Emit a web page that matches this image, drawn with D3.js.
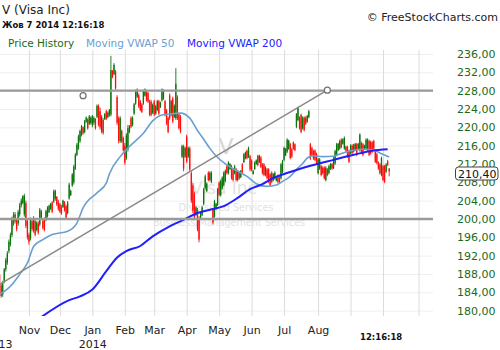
<!DOCTYPE html>
<html>
<head>
<meta charset="utf-8">
<script src="https://cdn.jsdelivr.net/npm/d3@7"></script>
<style>
  body { margin: 0; background: #fff; }
  svg { display: block; font-family: "DejaVu Sans", Verdana, sans-serif; }
</style>
</head>
<body>
<div id="chart"></div>
<script>
// ---- daily candles, Oct 7 2013 .. Oct 7 2014 (one entry per trading day) ----
const opens = [
  187.8,185.5,183.5,186.5,189,190.5,193,194.5,196.5,201,199.5,199.8,199,201,203,203.5,201,203.5,199.5,
  196.5,195.8,199.5,197.5,199.5,197.6,199,198.8,200.3,199.6,199.8,199.8,200.6,201.5,202.2,203.6,203.8,204.4,204.8,203.6,
  203.2,202.6,202.6,203.6,202.8,201.3,204.5,205.2,207.3,208,211,214,215.4,217,218.3,220,219,221.2,221.7,220.8,220.9,
  220.5,221,221.8,222.3,224.6,223.5,219.1,221.6,221.8,223.5,222.2,222.6,222.8,232.3,231.6,232.2,226.6,222,217,219.2,217.7,
  216,213.3,215.2,219,222,220.5,223,225.2,226.7,227,225.7,225,225.2,226.9,227.9,227.5,225.7,225.6,223.2,
  225.7,223,223.8,225.7,224.4,225.9,226.3,225.7,223.7,222,227,222.7,226.3,222.3,222,226.6,222.8,222.3,213.6,215.8,213.6,
  218,213.6,215.4,210,207.3,205.5,200.9,202,200.2,200.2,200.9,203.3,206.8,206.1,210.1,208.5,208.1,202,200.5,202.2,203.1,
  207.9,205.2,206.7,207.4,208.3,211.5,210,210.9,211.5,210.8,210,210.8,208.5,210.2,209.1,211.9,212.4,213.2,214.9,213.6,213.7,
  212.7,209.8,210.9,212,213.8,212.4,213.4,211.9,211.9,209.6,210.8,210.8,209.7,210.1,208.4,208.8,208.3,209.5,209,208.9,210.3,
  212.9,213.9,214.7,215.3,216.3,215.2,216.7,216.3,220.1,221.6,222.1,222.7,219.8,222.1,222.1,221.2,222.2,216.3,215.5,214.8,214.9,214.2,
  210,211,211.5,211.2,211.2,208.5,210.8,210,210.9,212,211.1,212.1,214,215,215.4,217.3,216.4,215.4,215.8,215.7,214.8,
  214.3,216,214.7,215,216.3,215.3,215,216.6,216.3,215.3,215.4,215,217,216.8,216.7,217,214.8,214.1,212.3,211.9,209.6,
  211.5,211.5,210.3,212.6,211
];
const highs = [
  188,186,186.5,189.3,191.5,193,195.5,197,200.5,201.5,201.5,200,202,203.5,204.5,205.2,205.5,204,200,
  197,200.3,199.9,200.6,199.9,199.5,199.5,202.4,202,199.9,200.3,202,202.8,203.1,203.5,203.9,206.4,206.4,205,204.2,
  203.5,203.1,204.2,203.9,203.1,203.9,207.9,206.4,210,211.8,214.4,216.6,218.4,219.5,220.5,220.2,221.6,222.4,222,222.7,222.4,
  222.7,222.4,222,225,225,224.3,222.7,222,223.1,223.8,223.5,224,235.6,232.5,234,232.5,227,222.4,222.4,219.5,218,
  216.6,218.7,220.5,220.5,222.4,222.4,225.3,228.2,228.5,227.4,226,225.3,228.2,228.5,228.2,227.8,226,226,225.2,
  226,224.9,226,226,225.6,228.5,228.3,226,224,222.4,227.4,226,226.7,225,232.9,227,223.1,222.7,216.2,216.2,215.8,
  218.4,215.8,215.8,210.4,207.8,206,202.8,202.4,200.6,201.7,202.8,206.8,209.7,208,210.4,210.4,210.4,202.4,204.2,203.5,206.8,
  208.2,208.6,209.3,210.4,210.8,211.8,212.6,212.2,211.8,211.1,211.8,211.1,210.7,210.4,210.7,212.2,214.4,214.7,215.1,215.8,214,
  213,210.7,212.6,213,214,214,213.7,212.2,212.2,211.5,211.1,211.1,210,210.4,210,210.4,209,209.7,209.3,212.2,212.9,
  215.8,215.5,217.6,217.3,216.6,215.5,216.9,216.5,223.1,224.5,222.4,223,222.4,222.4,222.4,222.7,223.8,216.6,215.8,215.1,215.2,214.5,
  213.3,213.3,211.8,211.5,211.5,211.5,211.1,211.8,212.2,212.2,213.5,215.1,216.6,216.6,217.3,217.6,217.6,218,216,216,215.1,
  216.3,216.3,216.4,216.6,216.6,216.6,218.7,216.9,216.6,216.2,217.6,217.6,217.3,217.1,217,217.3,215.1,214.4,212.6,212.2,213.6,
  211.8,211.8,212.2,212.9,211.1
];
const lows = [
  185,182.8,183,186,188.5,190,192.5,194,196,198.5,199,197.3,198.5,200.5,202.5,203.2,200.5,198,195.5,
  194.4,195.3,197.3,197,196.2,197.3,196.6,198.4,199.9,197.7,197.3,199.5,200.3,201.3,202,201.3,203.5,204,202.8,201.8,
  201.3,200.9,202.4,201.6,199.9,201,204.2,205,207,207.5,210.7,213.7,215.1,216.6,218,218.4,218.7,221,219.5,220.5,220.6,
  220,220.5,219.5,222,220.2,219.5,218.7,218.4,221.6,221.6,222,222.3,222.4,230.7,231.4,228.2,220.5,216.5,216.6,216.6,214.7,
  211.8,212.9,214.7,218.7,219.8,220.2,222.7,224.9,226.4,224.2,223.5,223.1,224.9,226.7,225.6,225.3,222.4,222.4,222.9,
  222.4,222.7,223.5,222.7,224.2,225.6,226,222.4,220.5,218.7,221.6,222.4,220.9,222,221.6,221.6,219.5,218.7,213.3,210.4,213.3,
  212.2,213.3,210.4,203.5,201.3,199.9,200.6,197.3,194.9,199.9,200.6,203,206.4,205.8,208.2,208.2,207.8,198.8,200.3,202,202.8,
  205,204.9,206.4,207.1,208,209.7,209.7,210.7,208.6,208.2,209.7,208.2,208.2,208.6,208.9,210,212.2,213,213,213.3,210.4,
  210.4,209.7,210.7,211.8,211.5,212.2,211.1,209.7,209.3,209.3,208.6,207.8,207.1,207.8,208.2,208.6,208.2,207.8,207.8,208.6,210,
  212.6,213.7,214.4,215.1,213,213.3,215.1,214.8,219.8,221.3,219.5,218.7,219.5,219.1,220.5,221,222,212.9,213.7,212.9,212.6,212,
  209.7,210.7,209.3,209.7,208.6,208.2,209.3,209.7,210.7,210.7,210.9,211.8,213.7,214.8,215.1,215.4,216.2,215.1,214.6,213.3,212.2,
  214.1,214.1,214.5,214.8,213.7,215.1,214.7,214.4,213.7,215.1,215.1,214.7,213.7,214,214.4,215.1,212.2,211.9,210.7,209.7,209.3,
  208.2,207.8,210,211.5,209.3
];
const closes = [
  185.5,183.2,186,189,191,192.5,195,196.5,200,199,201,197.8,201.5,203,204,205,205,198.5,196,
  195,199.8,197.8,200.2,196.6,199.2,197,202,201.6,198,197.6,201.7,202.5,202.9,203.3,201.6,206,206.2,203.2,202.2,
  201.6,201.2,204,201.9,200.3,203.6,207.5,206.1,209.7,211.4,214,216.2,218,219.2,220.2,218.7,221.3,222.1,219.8,222.4,222.1,
  222.4,222,219.8,224.7,220.6,220,222.3,218.8,222.9,221.9,223.2,223.8,232.5,231,233.6,228.5,221,217,222,216.9,215,
  212.3,218.2,219.8,220.2,220.1,222.1,225,227.8,228.2,224.6,223.8,223.4,227.9,228.2,225.9,225.6,222.8,222.7,224.9,
  222.8,224.6,225.7,223,225.4,228.2,228,222.7,220.9,219,222,225.7,221.3,224.7,229.5,222,219.8,219,215.9,211,215.5,
  212.6,215.5,210.8,204,201.8,200.3,202.5,197.7,195.5,201.4,202.5,206.5,209.3,207.7,208.5,210.1,210.1,199.2,203.9,203.3,206.5,
  205.3,208.3,209,210.1,210.5,210,212.3,212,208.9,208.5,211.5,208.5,210.4,208.9,210.5,210.3,214.1,214.5,213.3,215.5,210.8,
  210.7,210.5,212.3,212.8,211.8,213.8,211.4,210,209.6,211.2,208.9,208.1,207.4,208.1,209.8,210.1,208.9,208.1,208,211.9,212.6,
  215.5,215.3,217.3,217.1,213.3,213.6,215.3,215,222.8,224.2,219.8,219,222.1,219.4,220.8,222.5,223.5,213.2,214,213.2,212.9,212.3,
  213,213,209.6,210,208.9,211.2,209.6,211.5,212,211,213.2,214.8,216.3,216.4,217,215.7,217.4,217.7,214.9,213.6,212.5,
  216,214.4,216.2,216.4,214,216.4,218.4,214.7,214,216,217.3,217.3,214,214.3,214.7,215.4,212.5,212.2,211,210,213.3,
  208.5,208.1,211.9,211.8,210.4
];

// ---- indicators (trading-day index, price) ----
const vwap50Idx = [0,7,13,18,22,28,34,44,50,54,63,69,71,78,84,93,99,104,110,117,123,128,132,136,141,147,154,160,166,173,179,183,188,192,196,199,203,209,216,222,229,235,241,246,252];
const vwap50Val = [183.5,185.3,187.9,190.4,194,195.5,196.6,197.3,199.1,202.4,205.7,207.8,209.8,213.6,215.8,218.7,221.4,222.6,222.9,223.1,222,219.3,217.4,215.4,213.4,211.8,210.4,209.3,207.7,207.1,207.4,208.2,209.3,210.8,212.1,213.3,213.8,213.6,213.7,214.4,215,215.2,215.1,214.4,213.5];
const vwap200Idx = [27,45,52,60,69,76,82,91,99,110,119,128,136,145,154,162,170,175,183,192,201,216,229,241,251];
const vwap200Val = [178.6,182.3,183.1,184.6,188.6,191.6,193,194.1,196.2,198.4,199.8,201.3,202,202.8,204.6,206.5,207.6,208.6,209.7,210.7,211.6,212.9,214,214.9,215.2];

// ---- drawings ----
const levelLines = [228, 200];
const trendIdx = [0, 212];
const trendVal = [185.7, 228.1];
const handleIdx = [54, 212];
const handleVal = [226.9, 228.1];

// ---- axis labels ----
const yTicks = d3.range(180, 237, 4);
const monthLabels = ["Nov", "Dec", "Jan", "Feb", "Mar", "Apr", "May", "Jun", "Jul", "Aug"];
const yearLabels = ["2013", "2014"];
const holidays = ["2013-11-28","2013-12-25","2014-01-01","2014-01-20","2014-02-17",
                  "2014-04-18","2014-05-26","2014-07-04","2014-09-01","2014-11-27"];
const lastPrice = 210.40;

// trading calendar -> month starts
const dayKey = d3.timeFormat("%Y-%m-%d");
const days = d3.timeDay.range(new Date(2013, 9, 7), new Date(2014, 10, 29))
  .filter(d => d.getDay() % 6 !== 0 && !holidays.includes(dayKey(d)));
const monthStarts = [];
days.forEach((d, i) => {
  if (i > 0 && d.getMonth() !== days[i - 1].getMonth()) monthStarts.push(i);
});
const janIdx = monthStarts[2];

const fullW = 500, fullH = 350;
const plotR = 433, plotT = 50, plotB = 316;

const svg = d3.select("#chart").append("svg")
  .attr("width", fullW).attr("height", fullH);

svg.append("defs").append("clipPath").attr("id", "plotClip")
  .append("rect").attr("x", 0).attr("y", plotT).attr("width", plotR).attr("height", plotB - plotT);

const x = d3.scaleLinear().domain([0, 280]).range([-0.4, 432.5]);
const y = d3.scaleLinear().domain([180, 236]).range([310.6, 54]);

// Grid
const gridH = svg.append("g")
  .call(d3.axisRight(y).tickValues(yTicks).tickSize(plotR).tickFormat(""));
gridH.select(".domain").remove();
gridH.selectAll("line").attr("stroke", "#efefef");

const gridV = svg.append("g").attr("transform", `translate(0,${plotB})`)
  .call(d3.axisBottom(x).tickValues(monthStarts).tickSize(-(plotB - plotT)).tickFormat(""));
gridV.select(".domain").remove();
gridV.selectAll("line").attr("stroke", "#dcdcdc");

// Watermark
const wm = svg.append("g").attr("text-anchor", "middle").attr("fill", "#e2e2e2");
wm.append("text").attr("x", 226).attr("y", 154).attr("font-size", 22).attr("fill", "#d6d6d6").text("V");
wm.append("text").attr("x", 224).attr("y", 194).attr("font-size", 17).text("Visa Inc");
wm.append("text").attr("x", 226).attr("y", 211).attr("font-size", 9.6).text("Diversified Services");
wm.append("text").attr("x", 229).attr("y", 226).attr("font-size", 9.6).text("Business/Management Services");

const plot = svg.append("g").attr("clip-path", "url(#plotClip)");

// Candles
const candles = opens.map((o, i) => ({ i, o, h: highs[i], l: lows[i], c: closes[i] }));
const up = "#0a740a", down = "#ff0d0d";

plot.append("g").selectAll("line").data(candles).join("line")
  .attr("x1", d => x(d.i)).attr("x2", d => x(d.i))
  .attr("y1", d => y(d.h)).attr("y2", d => y(d.l))
  .attr("stroke", d => d.c >= d.o ? up : down)
  .attr("stroke-width", 0.9);

plot.append("g").selectAll("rect").data(candles).join("rect")
  .attr("x", d => x(d.i) - 0.65).attr("width", 1.3)
  .attr("y", d => y(Math.max(d.o, d.c)))
  .attr("height", d => Math.max(1, Math.abs(y(d.o) - y(d.c))))
  .attr("fill", d => d.c >= d.o ? up : down);

// Moving VWAP lines
const line = d3.line().x(d => x(d[0])).y(d => y(d[1])).curve(d3.curveMonotoneX);
plot.append("path").datum(d3.zip(vwap50Idx, vwap50Val))
  .attr("fill", "none").attr("stroke", "#6a9fd0").attr("stroke-width", 1.6).attr("d", line);
plot.append("path").datum(d3.zip(vwap200Idx, vwap200Val))
  .attr("fill", "none").attr("stroke", "#1f1fff").attr("stroke-width", 2).attr("d", line);

// Drawn lines
plot.selectAll(".level").data(levelLines).join("line")
  .attr("class", "level")
  .attr("x1", 0).attr("x2", plotR)
  .attr("y1", d => y(d)).attr("y2", d => y(d))
  .attr("stroke", "#9a9a9a").attr("stroke-width", 2.4);

plot.append("path").datum(d3.zip(trendIdx, trendVal))
  .attr("fill", "none").attr("stroke", "#8a8a8a").attr("stroke-width", 1.5)
  .attr("d", d3.line().x(d => x(d[0])).y(d => y(d[1])));

plot.selectAll(".handle").data(d3.zip(handleIdx, handleVal)).join("circle")
  .attr("class", "handle")
  .attr("cx", d => x(d[0])).attr("cy", d => y(d[1])).attr("r", 3)
  .attr("fill", "#fff").attr("stroke", "#707070").attr("stroke-width", 1.2);

// Price axis
const yAxis = svg.append("g").attr("transform", "translate(457,0)")
  .call(d3.axisRight(y).tickValues(yTicks).tickSize(0).tickPadding(0)
    .tickFormat(d => d3.format(".2f")(d).replace(".", ",")));
yAxis.select(".domain").remove();
yAxis.selectAll("text").attr("font-family", "DejaVu Sans").attr("font-size", 11).attr("fill", "#1b6a1b");

// Last price tag
const yl = y(lastPrice);
svg.append("rect").attr("x", 455.5).attr("y", yl - 4.3).attr("width", 42.5).attr("height", 13)
  .attr("rx", 3).attr("fill", "#fff").attr("stroke", "#444").attr("stroke-width", 1);
svg.append("text").attr("x", 458).attr("y", yl + 6.3).attr("font-size", 11).attr("fill", "#111")
  .text(d3.format(".2f")(lastPrice).replace(".", ","));

// Time axis
const xAxis = svg.append("g").attr("transform", "translate(0,334)")
  .call(d3.axisBottom(x).tickValues(monthStarts.slice(0, monthLabels.length))
    .tickSize(0).tickPadding(0).tickFormat((d, i) => monthLabels[i]));
xAxis.select(".domain").remove();
xAxis.selectAll("text").attr("dy", 0).attr("font-family", "DejaVu Sans").attr("font-size", 11).attr("fill", "#222");

const yearAxis = svg.append("g").attr("transform", "translate(0,348)")
  .call(d3.axisBottom(x).tickValues([-1, janIdx])
    .tickSize(0).tickPadding(0).tickFormat((d, i) => yearLabels[i]));
yearAxis.select(".domain").remove();
yearAxis.selectAll("text").attr("dy", 0).attr("font-family", "DejaVu Sans").attr("font-size", 11).attr("fill", "#222");

svg.append("text").attr("x", 360).attr("y", 340).attr("font-size", 8.5).attr("font-weight", "bold")
  .attr("fill", "#111").text("12:16:18");

// Header
svg.append("text").attr("x", 2).attr("y", 14).attr("font-size", 12).attr("fill", "#222").text("V (Visa Inc)");
svg.append("text").attr("x", 2).attr("y", 28.3).attr("font-size", 8.5).attr("font-weight", "bold")
  .attr("fill", "#111").text("Жов 7 2014 12:16:18");
svg.append("text").attr("x", 498).attr("y", 20.7).attr("text-anchor", "end").attr("font-size", 11)
  .attr("fill", "#222").text("© FreeStockCharts.com");

const legend = [
  { label: "Price History", color: "#1b6a1b", x: 8 },
  { label: "Moving VWAP 50", color: "#6a9fd0", x: 86 },
  { label: "Moving VWAP 200", color: "#2020ff", x: 187 }
];
svg.append("g").selectAll("text").data(legend).join("text")
  .attr("x", d => d.x).attr("y", 46.5).attr("font-size", 10.5)
  .attr("fill", d => d.color).text(d => d.label);
</script>
</body>
</html>
